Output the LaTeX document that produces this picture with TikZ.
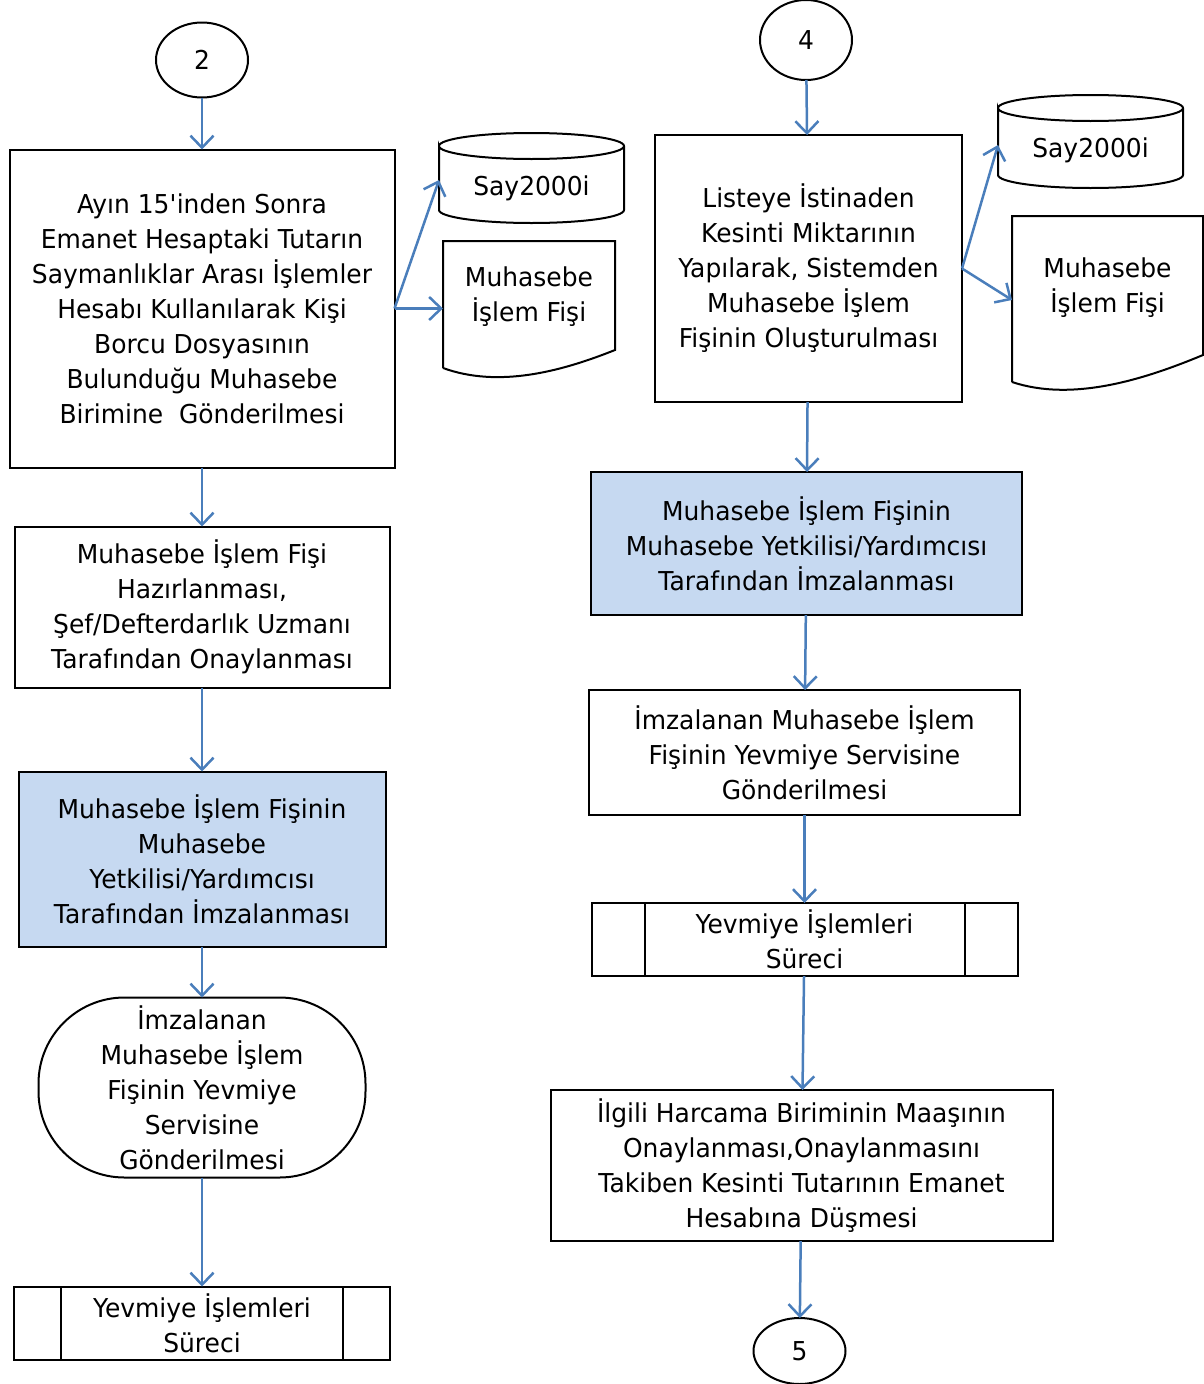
\documentclass[tikz,border=0pt]{standalone}
\usepackage{fontspec}
\setmainfont[FakeStretch=0.96]{DejaVu Sans}
\definecolor{FlowBlue}{HTML}{4A7EBB}
\definecolor{SoftBlue}{HTML}{C6D9F1}
\usetikzlibrary{arrows.meta, positioning, shapes.geometric}
\tikzset{
  box/.style={draw=black, line width=2pt, fill=white, align=center, inner sep=4pt, outer sep=0pt, font=\fontsize{26}{35}\selectfont},
  bluebox/.style={box, fill=SoftBlue},
  plain/.style={align=center, inner sep=0pt, outer sep=0pt, font=\fontsize{26}{35}\selectfont},
  outline/.style={draw=black, line width=2pt},
  arr/.style={-{Straight Barb[length=12pt, width=23pt, line width=2.5pt]}, line width=2.5pt, draw=FlowBlue}
}
\begin{document}
\begin{tikzpicture}[x=1pt, y=-1pt,
  connector/.style={box, ellipse, inner sep=0pt},
  terminal/.style={box, rounded corners=86pt},
  process/.style={box}
]
\useasboundingbox (0,0) rectangle (1203,1384);

% left column
\node[connector, minimum width=92pt, minimum height=75pt] (c2) at (202,60) {2};
\node[box, below=52pt of c2, minimum width=385pt, minimum height=318pt] (send) {Ayın 15\textquotesingle inden Sonra\\Emanet Hesaptaki Tutarın\\Saymanlıklar Arası İşlemler\\Hesabı Kullanılarak Kişi\\Borcu Dosyasının\\Bulunduğu Muhasebe\\Birimine~ Gönderilmesi};
\node[box, below=59pt of send, minimum width=375pt, minimum height=161pt] (prep) {Muhasebe İşlem Fişi\\Hazırlanması,\\Şef/Defterdarlık Uzmanı\\Tarafından Onaylanması};
\node[bluebox, below=84pt of prep, minimum width=367pt, minimum height=175pt] (sign) {Muhasebe İşlem Fişinin\\Muhasebe\\Yetkilisi/Yardımcısı\\Tarafından İmzalanması};
\node[terminal, below=51pt of sign, minimum width=327pt, minimum height=180pt] (forward) {İmzalanan\\Muhasebe İşlem\\Fişinin Yevmiye\\Servisine\\Gönderilmesi};
\node[process, below=109pt of forward, minimum width=376pt, minimum height=73pt] (journal) {Yevmiye İşlemleri\\Süreci};
\draw[outline] ([xshift=47pt]journal.north west) -- ([xshift=47pt]journal.south west);
\draw[outline] ([xshift=-47pt]journal.north east) -- ([xshift=-47pt]journal.south east);

% left outputs
\node[plain, minimum width=185pt, minimum height=70pt] (db1) at (531.5,188) {Say2000i};
\draw[outline] ([yshift=7pt]db1.north west) arc[start angle=180, end angle=0, x radius=92.5pt, y radius=13pt]
  arc[start angle=0, end angle=-180, x radius=92.5pt, y radius=13pt]
  -- ([yshift=13pt]db1.south west) arc[start angle=180, end angle=360, x radius=92.5pt, y radius=13pt]
  -- ([yshift=7pt]db1.north east);
\node[plain, minimum width=172pt, minimum height=112pt] (doc1) at (529,297) {Muhasebe\\İşlem Fişi};
\draw[outline] ([yshift=-15pt]doc1.south west) -- (doc1.north west) -- (doc1.north east) -- ([yshift=3pt]doc1.south east)
  .. controls +(-55pt,-22pt) and +(55pt,-20pt) .. ([yshift=-15pt]doc1.south west);

\draw[arr] (c2) -- (send);
\draw[arr] (send) -- (prep);
\draw[arr] (prep) -- (sign);
\draw[arr] (sign) -- (forward);
\draw[arr] (forward) -- (journal);
\draw[arr] (send.east) -- ([yshift=8pt]db1.west);
\draw[arr] (send.east) -- (send.east -| doc1.west);

% right column
\node[connector, minimum width=92pt, minimum height=80pt] (c4) at (806,40) {4};
\node[box, below=55pt of c4, xshift=2.5pt, minimum width=307pt, minimum height=267pt] (create) {Listeye İstinaden\\Kesinti Miktarının\\Yapılarak, Sistemden\\Muhasebe İşlem\\Fişinin Oluşturulması};
\node[bluebox, below=70pt of create, xshift=-2pt, minimum width=431pt, minimum height=143pt] (rsign) {Muhasebe İşlem Fişinin\\Muhasebe Yetkilisi/Yardımcısı\\Tarafından İmzalanması};
\node[box, below=75pt of rsign, xshift=-2pt, minimum width=431pt, minimum height=125pt] (rforward) {İmzalanan Muhasebe İşlem\\Fişinin Yevmiye Servisine\\Gönderilmesi};
\node[process, below=88pt of rforward, minimum width=426pt, minimum height=73pt] (rjournal) {Yevmiye İşlemleri\\Süreci};
\draw[outline] ([xshift=53pt]rjournal.north west) -- ([xshift=53pt]rjournal.south west);
\draw[outline] ([xshift=-53pt]rjournal.north east) -- ([xshift=-53pt]rjournal.south east);
\node[box, below=114pt of rjournal, xshift=-3pt, minimum width=502pt, minimum height=151pt] (approve) {İlgili Harcama Biriminin Maaşının\\Onaylanması,Onaylanmasını\\Takiben Kesinti Tutarının Emanet\\Hesabına Düşmesi};
\node[connector, below=77pt of approve, xshift=-2pt, minimum width=92pt, minimum height=66pt] (c5) {5};

% right outputs
\node[plain, minimum width=185pt, minimum height=76pt] (db2) at (1090.5,150) {Say2000i};
\draw[outline] ([yshift=4pt]db2.north west) arc[start angle=180, end angle=0, x radius=92.5pt, y radius=13pt]
  arc[start angle=0, end angle=-180, x radius=92.5pt, y radius=13pt]
  -- ([yshift=13pt]db2.south west) arc[start angle=180, end angle=360, x radius=92.5pt, y radius=13pt]
  -- ([yshift=4pt]db2.north east);
\node[plain, minimum width=191pt, minimum height=144pt] (doc2) at (1107.5,288) {Muhasebe\\İşlem Fişi};
\draw[outline] ([yshift=-22pt]doc2.south west) -- (doc2.north west) -- (doc2.north east) -- ([yshift=5pt]doc2.south east)
  .. controls +(-60pt,-25pt) and +(60pt,-20pt) .. ([yshift=-22pt]doc2.south west);

\draw[arr] (c4) -- (create);
\draw[arr] (create) -- (rsign);
\draw[arr] (rsign) -- (rforward);
\draw[arr] (rforward) -- (rjournal);
\draw[arr] (rjournal) -- (approve);
\draw[arr] (approve) -- (c5);
\draw[arr] (create.east) -- ([yshift=5pt]db2.west);
\draw[arr] (create.east) -- ([yshift=-12pt]doc2.west);
\end{tikzpicture}
\end{document}
